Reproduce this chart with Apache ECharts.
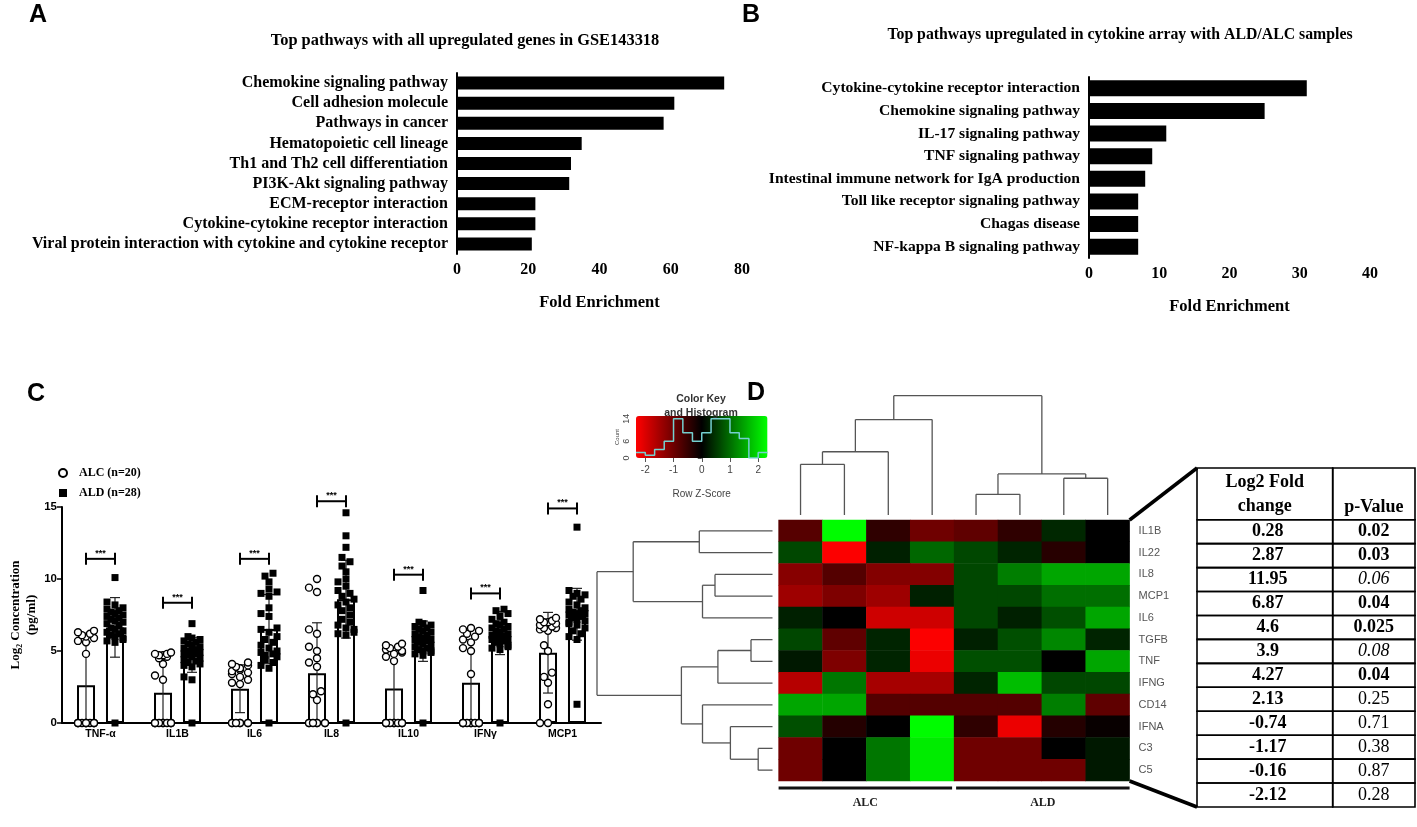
<!DOCTYPE html>
<html>
<head>
<meta charset="utf-8">
<script src="https://cdn.jsdelivr.net/npm/echarts@6/dist/echarts.min.js"></script>
<style>
  html, body { margin: 0; background: #fff; }
  #chart { width: 1417px; height: 827px; }
</style>
</head>
<body>
<div id="chart"></div>
<script>
// ---------- panel A: GSE143318 pathways
const pathwaysA = [
  'Chemokine signaling pathway', 'Cell adhesion molecule', 'Pathways in cancer',
  'Hematopoietic cell lineage', 'Th1 and Th2 cell differentiation', 'PI3K-Akt signaling pathway',
  'ECM-receptor interaction', 'Cytokine-cytokine receptor interaction',
  'Viral protein interaction with cytokine and cytokine receptor'
];
const enrichA = [75, 61, 58, 35, 32, 31.5, 22, 22, 21];

// ---------- panel B: cytokine array pathways
const pathwaysB = [
  'Cytokine-cytokine receptor interaction', 'Chemokine signaling pathway', 'IL-17 signaling pathway',
  'TNF signaling pathway', 'Intestinal immune network for IgA production',
  'Toll like receptor signaling pathway', 'Chagas disease', 'NF-kappa B signaling pathway'
];
const enrichB = [31, 25, 11, 9, 8, 7, 7, 7];

// ---------- panel C: log2 concentrations
const cytokines = ['TNF-α', 'IL1B', 'IL6', 'IL8', 'IL10', 'IFNγ', 'MCP1'];
const alcMean = [2.62, 2.1, 2.38, 3.46, 2.4, 2.8, 4.88];
const alcSD = [3.0, 2.3, 1.66, 3.5, 2.6, 3.0, 2.8];
const aldMean = [6.64, 4.72, 6.52, 8.6, 5.68, 6.25, 7.55];
const aldSD = [2.07, 1.2, 2.4, 2.7, 1.4, 1.5, 1.8];
const sigY = [11.4, 8.35, 11.4, 15.4, 10.3, 9.0, 14.9];
const alcPoints = [
  [6.4, 6.3, 6.2, 6.1, 6.0, 5.9, 5.7, 5.6, 4.8, 0, 0, 0, 0, 0, 0, 0, 0, 0, 0, 0],
  [4.9, 4.8, 4.8, 4.7, 4.7, 4.6, 4.5, 4.1, 3.3, 3.0, 0, 0, 0, 0, 0, 0, 0, 0, 0, 0],
  [4.2, 4.1, 4.0, 3.9, 3.8, 3.7, 3.6, 3.5, 3.4, 3.2, 3.0, 2.8, 2.7, 0, 0, 0, 0, 0, 0, 0],
  [10.0, 9.4, 9.1, 6.5, 6.2, 5.3, 5.0, 4.5, 4.2, 3.9, 2.2, 2.0, 1.6, 0, 0, 0, 0, 0, 0, 0],
  [5.5, 5.4, 5.3, 5.2, 5.1, 5.0, 4.9, 4.8, 4.6, 4.3, 0, 0, 0, 0, 0, 0, 0, 0, 0, 0],
  [6.6, 6.5, 6.4, 6.2, 6.0, 5.8, 5.6, 5.2, 5.0, 3.4, 0, 0, 0, 0, 0, 0, 0, 0, 0, 0],
  [7.3, 7.2, 7.1, 7.0, 7.0, 6.9, 6.8, 6.7, 6.6, 6.6, 6.5, 6.4, 5.4, 5.0, 3.5, 3.2, 2.8, 1.3, 0, 0]
];
const aldPoints = [
  [10.1, 8.4, 8.2, 8.0, 7.9, 7.8, 7.7, 7.6, 7.5, 7.4, 7.3, 7.2, 7.1, 7.0, 6.9, 6.8, 6.6, 6.5, 6.4, 6.3, 6.2, 6.1, 6.0, 5.9, 5.8, 5.7, 5.6, 0],
  [6.9, 6.0, 5.9, 5.8, 5.7, 5.6, 5.5, 5.4, 5.3, 5.2, 5.1, 5.0, 5.0, 4.9, 4.8, 4.8, 4.7, 4.6, 4.5, 4.4, 4.3, 4.2, 4.1, 4.0, 3.9, 3.2, 3.0, 0],
  [10.4, 10.2, 9.8, 9.3, 9.1, 9.0, 8.8, 8.0, 7.6, 7.4, 6.6, 6.5, 6.3, 6.0, 5.8, 5.6, 5.4, 5.2, 5.0, 4.9, 4.8, 4.7, 4.6, 4.4, 4.2, 4.0, 3.8, 0],
  [14.6, 13.0, 12.2, 11.5, 11.2, 10.9, 10.5, 10.0, 9.8, 9.5, 9.2, 9.0, 8.8, 8.6, 8.4, 8.2, 8.0, 7.8, 7.5, 7.2, 7.0, 6.8, 6.6, 6.5, 6.3, 6.2, 6.1, 0],
  [9.2, 7.0, 6.9, 6.8, 6.7, 6.6, 6.5, 6.4, 6.3, 6.2, 6.1, 6.0, 5.9, 5.8, 5.8, 5.7, 5.6, 5.5, 5.4, 5.3, 5.2, 5.1, 5.0, 5.0, 4.9, 4.8, 4.7, 0],
  [7.9, 7.8, 7.6, 7.4, 7.2, 7.0, 6.9, 6.8, 6.7, 6.6, 6.5, 6.4, 6.3, 6.2, 6.1, 6.0, 6.0, 5.9, 5.8, 5.8, 5.7, 5.6, 5.5, 5.4, 5.3, 5.2, 5.1, 0],
  [13.6, 9.2, 9.0, 8.9, 8.8, 8.6, 8.4, 8.2, 8.0, 7.9, 7.8, 7.7, 7.6, 7.6, 7.5, 7.4, 7.3, 7.2, 7.1, 7.0, 6.9, 6.8, 6.6, 6.4, 6.2, 6.0, 5.8, 1.3]
];

// ---------- panel D: heatmap (row z-scores), dendrograms, colour key, table
const genes = ['IL1B', 'IL22', 'IL8', 'MCP1', 'IL6', 'TGFB', 'TNF', 'IFNG', 'CD14', 'IFNA', 'C3', 'C5'];
const samples = ['s1', 's2', 's3', 's4', 's5', 's6', 's7', 's8'];
const heatZ = [
  [-0.79, 2.3, -0.43, -1.01, -0.87, -0.43, 0.36, 0],
  [0.65, -2.3, 0.29, 0.94, 0.65, 0.33, -0.36, 0],
  [-1.23, -0.77, -1.2, -1.2, 0.65, 1.15, 1.52, 1.52],
  [-1.44, -1.15, -1.44, 0.29, 0.65, 0.65, 1.01, 1.01],
  [0.29, 0, -1.88, -1.88, 0.65, 0.29, 0.72, 1.52],
  [0.65, -0.87, 0.33, -2.3, 0.29, 0.72, 1.23, 0.33],
  [0.22, -1.15, 0.33, -2.16, 0.72, 0.72, 0, 1.52],
  [-1.66, 1.08, -1.52, -1.52, 0.33, 1.73, 0.65, 0.65],
  [1.52, 1.52, -0.77, -0.77, -0.77, -0.77, 1.15, -0.87],
  [0.72, -0.33, 0, 2.3, -0.43, -2.16, -0.33, -0.07],
  [-1.01, 0, 1.08, 2.16, -1.01, -1.01, 0, 0.22],
  [-1.01, 0, 1.08, 2.16, -1.01, -1.01, -1.01, 0.22]
];
const sampleGroups = [['ALC', 0, 3], ['ALD', 4, 7]];
// hclust-style merges: negative = leaf (1-based), positive = earlier merge
const colMerge = [[-5, -6], [-7, -8], [1, 2], [-1, -2], [4, -3], [5, -4], [6, 3]];
const colHeight = [1.73, 3.08, 3.44, 4.25, 5.3, 8.0, 10.0];
const rowMerge = [[-11, -12], [-6, -7], [-10, 1], [2, -8], [-3, -4], [-9, 3], [5, -5], [-1, -2], [4, 6], [8, 7], [10, 9]];
const rowHeight = [14.3, 21.5, 42.1, 54.6, 57.5, 70, 70, 73.2, 91.1, 139.3, 175.5];
const keyEdges = [-2.33, -2, -1.67, -1.33, -1, -0.67, -0.33, 0, 0.33, 0.67, 1, 1.33, 1.67, 2, 2.33];
const keyCounts = [2, 1, 3, 6, 14, 9, 6, 9, 14, 14, 9, 7, 0, 2];
const foldChange = [0.28, 2.87, 11.95, 6.87, 4.6, 3.9, 4.27, 2.13, -0.74, -1.17, -0.16, -2.12];
const pValue = [0.02, 0.03, 0.06, 0.04, 0.025, 0.08, 0.04, 0.25, 0.71, 0.38, 0.87, 0.28];

const SERIF = '"Liberation Serif", "Times New Roman", serif';
const SANS = '"Liberation Sans", Arial, sans-serif';

const chart = echarts.init(document.getElementById('chart'));

// panel C geometry helpers (grid is 539 x 216 px, 7 bands, y 0..15)
const C_BAND = 539 / 7;
const C_PXY = 216 / 15;
const SIDE = 14.5 / C_BAND;

function swarm(vals, gi, side) {
  const slots = [0, -4, 4, -8, 8];
  const placed = [];
  return vals.slice().sort((a, b) => a - b).map((v, k) => {
    const y = v * C_PXY;
    let dx = slots.find(s => placed.every(p => Math.hypot(p[0] - s, p[1] - y) >= 6.5));
    if (dx === undefined) dx = slots[k % slots.length];
    placed.push([dx, y]);
    return [gi + side * SIDE + dx / C_BAND, v];
  });
}

function dendro(merge, heights) {
  const pos = [], ht = [], segs = [];
  merge.forEach(([a, b], m) => {
    const pa = a < 0 ? -a - 1 : pos[a - 1], ha = a < 0 ? 0 : ht[a - 1];
    const pb = b < 0 ? -b - 1 : pos[b - 1], hb = b < 0 ? 0 : ht[b - 1];
    const h = heights[m];
    segs.push([pa, ha, pa, h], [pa, h, pb, h], [pb, h, pb, hb]);
    pos.push((pa + pb) / 2);
    ht.push(h);
  });
  return segs;
}

const lineStyle = (stroke, w) => ({ stroke: stroke, lineWidth: w });

function segRender(params, api) {
  const p1 = api.coord([api.value(0), api.value(1)]);
  const p2 = api.coord([api.value(2), api.value(3)]);
  return { type: 'line', shape: { x1: p1[0], y1: p1[1], x2: p2[0], y2: p2[1] }, style: lineStyle('#555', 1.3) };
}

const labelA = { interval: 0, fontFamily: SERIF, fontWeight: 'bold', fontSize: 16, color: '#000' };
const labelB = { interval: 0, fontFamily: SERIF, fontWeight: 'bold', fontSize: 15.6, color: '#000' };
const tickLabel = { fontFamily: SERIF, fontWeight: 'bold', fontSize: 16, color: '#000' };
const blackLine = { lineStyle: { color: '#000', width: 2 } };
const blackTick = { length: 5, lineStyle: { color: '#000', width: 1.5 } };
const foldName = { fontFamily: SERIF, fontWeight: 'bold', fontSize: 16.5, color: '#000' };

const HEADER = 2.16;

const option = {
  animation: false,
  backgroundColor: '#fff',
  title: [
    { text: 'A', left: 29, top: 3, padding: 0, textStyle: { fontFamily: SANS, fontWeight: 'bold', fontSize: 25, color: '#000' } },
    { text: 'B', left: 742, top: 3, padding: 0, textStyle: { fontFamily: SANS, fontWeight: 'bold', fontSize: 25, color: '#000' } },
    { text: 'C', left: 27, top: 382, padding: 0, textStyle: { fontFamily: SANS, fontWeight: 'bold', fontSize: 25, color: '#000' } },
    { text: 'D', left: 747, top: 381, padding: 0, textStyle: { fontFamily: SANS, fontWeight: 'bold', fontSize: 25, color: '#000' } },
    { text: 'Top pathways with all upregulated genes in GSE143318', left: 465, top: 33, padding: 0, textAlign: 'center',
      textStyle: { fontFamily: SERIF, fontWeight: 'bold', fontSize: 16.4, color: '#000' } },
    { text: 'Top pathways upregulated in cytokine array with ALD/ALC samples', left: 1120, top: 27, padding: 0, textAlign: 'center',
      textStyle: { fontFamily: SERIF, fontWeight: 'bold', fontSize: 15.8, color: '#000' } },
    { text: 'Color Key\nand Histogram', left: 701, top: 392, padding: 0, textAlign: 'center',
      textStyle: { fontFamily: SANS, fontWeight: 'bold', fontSize: 10.5, lineHeight: 14, color: '#333' } }
  ],
  legend: {
    left: 58, top: 467, padding: 0, orient: 'vertical', itemWidth: 8, itemHeight: 8, itemGap: 8,
    data: [{ name: 'ALC (n=20)', icon: 'circle' }, { name: 'ALD (n=28)', icon: 'rect' }],
    textStyle: { fontFamily: SERIF, fontWeight: 'bold', fontSize: 12, color: '#000', padding: [0, 0, 0, 7] }
  },
  visualMap: {
    type: 'continuous', min: -2.33, max: 2.33, seriesIndex: 8, orient: 'horizontal',
    left: 636, top: 416, itemWidth: 42, itemHeight: 131.5, padding: 0, calculable: false,
    showLabel: false, text: null, hoverLink: false,
    inRange: { color: ['#ff0000', '#000000', '#00ff00'] }
  },
  grid: [
    { left: 457, top: 73, width: 285, height: 181 },
    { left: 1089, top: 77, width: 281, height: 181 },
    { left: 62, top: 507, width: 539, height: 216 },
    { left: 778.6, top: 520, width: 351, height: 261 },
    { left: 778.6, top: 395.7, width: 351, height: 119.3 },
    { left: 592.5, top: 520, width: 180, height: 261 },
    { left: 636, top: 416, width: 131.5, height: 42 },
    { left: 1197, top: 468, width: 218, height: 339 }
  ],
  xAxis: [
    { gridIndex: 0, type: 'value', min: 0, max: 80, interval: 20, splitLine: { show: false },
      axisLine: blackLine, axisTick: blackTick, axisLabel: Object.assign({ margin: 8 }, tickLabel),
      name: 'Fold Enrichment', nameLocation: 'middle', nameGap: 40, nameTextStyle: foldName },
    { gridIndex: 1, type: 'value', min: 0, max: 40, interval: 10, splitLine: { show: false },
      axisLine: blackLine, axisTick: blackTick, axisLabel: Object.assign({ margin: 8 }, tickLabel),
      name: 'Fold Enrichment', nameLocation: 'middle', nameGap: 40, nameTextStyle: foldName },
    { gridIndex: 2, type: 'category', data: cytokines,
      axisLine: Object.assign({ onZero: false }, blackLine), axisTick: Object.assign({ alignWithLabel: true }, blackTick),
      axisLabel: { interval: 0, margin: 6, fontFamily: SANS, fontWeight: 'bold', fontSize: 10.5, color: '#000' } },
    { gridIndex: 2, type: 'value', min: -0.5, max: 6.5, show: false },
    { gridIndex: 3, type: 'category', data: samples, show: false },
    { gridIndex: 4, type: 'value', min: -0.5, max: 7.5, show: false },
    { gridIndex: 5, type: 'value', min: 0, max: 180, inverse: true, show: false },
    { gridIndex: 6, type: 'value', min: -2.33, max: 2.33, splitLine: { show: false },
      axisLine: { show: false },
      axisTick: { customValues: [-2, -1, 0, 1, 2], length: 4, lineStyle: { color: '#555' } },
      axisLabel: { customValues: [-2, -1, 0, 1, 2], margin: 7, fontFamily: SANS, fontSize: 10, color: '#444' },
      name: 'Row Z-Score', nameLocation: 'middle', nameGap: 31,
      nameTextStyle: { fontFamily: SANS, fontSize: 10, color: '#444' } },
    { gridIndex: 7, type: 'value', min: 0, max: 1, show: false }
  ],
  yAxis: [
    { gridIndex: 0, type: 'category', data: pathwaysA, inverse: true,
      axisLine: blackLine, axisTick: Object.assign({ alignWithLabel: true }, blackTick),
      axisLabel: Object.assign({ margin: 9 }, labelA) },
    { gridIndex: 1, type: 'category', data: pathwaysB, inverse: true,
      axisLine: blackLine, axisTick: Object.assign({ alignWithLabel: true }, blackTick),
      axisLabel: Object.assign({ margin: 9 }, labelB) },
    { gridIndex: 2, type: 'value', min: 0, max: 15, interval: 5, splitLine: { show: false },
      axisLine: { show: true, onZero: false, lineStyle: { color: '#000', width: 2 } },
      axisTick: { show: true, length: 5, lineStyle: { color: '#000', width: 1.5 } },
      axisLabel: { margin: 5, fontFamily: SANS, fontWeight: 'bold', fontSize: 11.5, color: '#000' },
      name: 'Log₂ Concentration\n(pg/ml)', nameLocation: 'middle', nameGap: 22, nameRotate: 90,
      nameTextStyle: { fontFamily: SERIF, fontWeight: 'bold', fontSize: 13, lineHeight: 16, color: '#000' } },
    { gridIndex: 3, type: 'category', data: genes, inverse: true, position: 'right',
      axisLine: { show: false }, axisTick: { show: false },
      axisLabel: { interval: 0, margin: 9, fontFamily: SANS, fontSize: 11, color: '#555' } },
    { gridIndex: 4, type: 'value', min: 0, max: 10, show: false },
    { gridIndex: 5, type: 'value', min: -0.5, max: 11.5, inverse: true, show: false },
    { gridIndex: 6, type: 'value', min: 0, max: 15, splitLine: { show: false },
      axisLine: { show: false },
      axisTick: { customValues: [0, 2, 4, 6, 8, 10, 12, 14], length: 4, lineStyle: { color: '#555' } },
      axisLabel: { customValues: [0, 6, 14], rotate: 90, margin: 5, fontFamily: SANS, fontSize: 9, color: '#444' },
      name: 'Count', nameLocation: 'middle', nameGap: 16, nameRotate: 90,
      nameTextStyle: { fontFamily: SANS, fontSize: 6, color: '#444' } },
    { gridIndex: 7, type: 'value', min: 0, max: 12 + HEADER, inverse: true, show: false }
  ],
  series: [
    // 0, 1: pathway bars
    { type: 'bar', xAxisIndex: 0, yAxisIndex: 0, data: enrichA, barWidth: 13, itemStyle: { color: '#000' } },
    { type: 'bar', xAxisIndex: 1, yAxisIndex: 1, data: enrichB, barWidth: 16, itemStyle: { color: '#000' } },
    // 2, 3: mean bars
    { type: 'bar', name: 'ALC mean', xAxisIndex: 2, yAxisIndex: 2, data: alcMean, barWidth: 18, barGap: '61%',
      itemStyle: { color: '#fff', borderColor: '#000', borderWidth: 2 } },
    { type: 'bar', name: 'ALD mean', xAxisIndex: 2, yAxisIndex: 2, data: aldMean, barWidth: 18, barGap: '61%',
      itemStyle: { color: '#fff', borderColor: '#000', borderWidth: 2 } },
    // 4: error bars (mean ± SD)
    { type: 'custom', xAxisIndex: 3, yAxisIndex: 2, z: 3, clip: false,
      data: cytokines.map((c, i) => [i, aldMean[i]]),
      renderItem: (params, api) => {
        const i = params.dataIndex;
        const children = [];
        [[alcMean, alcSD, -1], [aldMean, aldSD, 1]].forEach(([m, s, side]) => {
          const x = i + side * SIDE;
          const hi = m[i] + s[i], lo = Math.max(0, m[i] - s[i]);
          const a = api.coord([x, hi]), b = api.coord([x, lo]);
          children.push({ type: 'line', shape: { x1: a[0], y1: a[1], x2: b[0], y2: b[1] }, style: lineStyle('#222', 1.2) });
          children.push({ type: 'line', shape: { x1: a[0] - 5, y1: a[1], x2: a[0] + 5, y2: a[1] }, style: lineStyle('#222', 1.2) });
          if (lo > 0) children.push({ type: 'line', shape: { x1: b[0] - 5, y1: b[1], x2: b[0] + 5, y2: b[1] }, style: lineStyle('#222', 1.2) });
        });
        return { type: 'group', children: children };
      } },
    // 5: significance brackets
    { type: 'custom', xAxisIndex: 3, yAxisIndex: 2, clip: false,
      data: sigY.map((y, i) => [i, y]),
      renderItem: (params, api) => {
        const i = api.value(0), y = api.value(1);
        const l = api.coord([i - SIDE, y]), r = api.coord([i + SIDE, y]);
        const st = lineStyle('#000', 2);
        return { type: 'group', children: [
          { type: 'line', shape: { x1: l[0], y1: l[1], x2: r[0], y2: r[1] }, style: st },
          { type: 'line', shape: { x1: l[0], y1: l[1] - 6, x2: l[0], y2: l[1] + 6 }, style: st },
          { type: 'line', shape: { x1: r[0], y1: r[1] - 6, x2: r[0], y2: r[1] + 6 }, style: st },
          { type: 'text', x: (l[0] + r[0]) / 2, y: l[1] - 1,
            style: { text: '***', font: 'bold 9px ' + SANS, fill: '#000', textAlign: 'center', textVerticalAlign: 'bottom', align: 'center', verticalAlign: 'bottom' } }
        ] };
      } },
    // 6, 7: individual samples
    { type: 'scatter', name: 'ALC (n=20)', xAxisIndex: 3, yAxisIndex: 2, symbol: 'circle', symbolSize: 7, clip: false, z: 4,
      itemStyle: { color: '#fff', borderColor: '#000', borderWidth: 1.4, opacity: 1 },
      data: alcPoints.flatMap((vals, gi) => swarm(vals, gi, -1)) },
    { type: 'scatter', name: 'ALD (n=28)', xAxisIndex: 3, yAxisIndex: 2, symbol: 'rect', symbolSize: 7, clip: false, z: 4,
      itemStyle: { color: '#000', opacity: 1 },
      data: aldPoints.flatMap((vals, gi) => swarm(vals, gi, 1)) },
    // 8: heatmap
    { type: 'heatmap', xAxisIndex: 4, yAxisIndex: 3,
      data: heatZ.flatMap((row, r) => row.map((z, c) => [c, r, z])),
      itemStyle: { borderWidth: 0 }, emphasis: { disabled: true } },
    // 9: column dendrogram
    { type: 'custom', xAxisIndex: 5, yAxisIndex: 4, clip: false,
      data: dendro(colMerge, colHeight), renderItem: segRender },
    // 10: row dendrogram (x = height, y = leaf position)
    { type: 'custom', xAxisIndex: 6, yAxisIndex: 5, clip: false,
      data: dendro(rowMerge, rowHeight).map(s => [s[1], s[0], s[3], s[2]]), renderItem: segRender },
    // 11: sample group bars below heatmap
    { type: 'custom', xAxisIndex: 4, yAxisIndex: 3, clip: false,
      data: sampleGroups.map(g => [g[1], g[2]]),
      renderItem: (params, api) => {
        const g = sampleGroups[params.dataIndex];
        const size = api.size([1, 1]);
        const a = api.coord([g[1], genes.length - 1]), b = api.coord([g[2], genes.length - 1]);
        const x1 = a[0] - size[0] / 2 + (params.dataIndex ? 2 : 0);
        const x2 = b[0] + size[0] / 2 - (params.dataIndex ? 0 : 2);
        const y = a[1] + size[1] / 2 + 7;
        return { type: 'group', children: [
          { type: 'line', shape: { x1: x1, y1: y, x2: x2, y2: y }, style: lineStyle('#111', 3) },
          { type: 'text', x: (x1 + x2) / 2, y: y + 15,
            style: { text: g[0], font: 'bold 12px ' + SERIF, fill: '#222', textAlign: 'center', textVerticalAlign: 'middle', align: 'center', verticalAlign: 'middle' } }
        ] };
      } },
    // 12: colour key histogram
    { type: 'line', xAxisIndex: 7, yAxisIndex: 6, step: 'end', symbol: 'none', z: 10,
      lineStyle: { color: '#74d0d0', width: 1.5 },
      data: keyEdges.map((e, k) => [e, keyCounts[Math.min(k, keyCounts.length - 1)]]) },
    // 13: table header
    { type: 'custom', xAxisIndex: 8, yAxisIndex: 7, clip: false, data: [[0, 0]],
      renderItem: (params, api) => {
        const split = 0.6225;
        const tl = api.coord([0, 0]), mid = api.coord([split, HEADER]), br = api.coord([1, HEADER]);
        const st = { stroke: '#000', lineWidth: 1.6, fill: null };
        return { type: 'group', children: [
          { type: 'rect', shape: { x: tl[0], y: tl[1], width: mid[0] - tl[0], height: br[1] - tl[1] }, style: st },
          { type: 'rect', shape: { x: mid[0], y: tl[1], width: br[0] - mid[0], height: br[1] - tl[1] }, style: st },
          { type: 'text', x: (tl[0] + mid[0]) / 2, y: (tl[1] + br[1]) / 2,
            style: { text: 'Log2 Fold\nchange', font: 'bold 18px ' + SERIF, lineHeight: 24, fill: '#000', textAlign: 'center', textVerticalAlign: 'middle', align: 'center', verticalAlign: 'middle' } },
          { type: 'text', x: (mid[0] + br[0]) / 2, y: (tl[1] + br[1]) / 2 + 13,
            style: { text: 'p-Value', font: 'bold 18px ' + SERIF, fill: '#000', textAlign: 'center', textVerticalAlign: 'middle', align: 'center', verticalAlign: 'middle' } }
        ] };
      } },
    // 14: table rows
    { type: 'custom', xAxisIndex: 8, yAxisIndex: 7, clip: false,
      data: foldChange.map((f, i) => [i, f]),
      renderItem: (params, api) => {
        const i = params.dataIndex, split = 0.6225;
        const tl = api.coord([0, HEADER + i]), mid = api.coord([split, HEADER + i + 1]), br = api.coord([1, HEADER + i + 1]);
        const st = { stroke: '#000', lineWidth: 1.6, fill: null };
        const p = pValue[i];
        const pFont = p < 0.05 ? 'bold 18px ' : (p < 0.1 ? 'italic 18px ' : '18px ');
        const cy = (tl[1] + br[1]) / 2;
        return { type: 'group', children: [
          { type: 'rect', shape: { x: tl[0], y: tl[1], width: mid[0] - tl[0], height: br[1] - tl[1] }, style: st },
          { type: 'rect', shape: { x: mid[0], y: tl[1], width: br[0] - mid[0], height: br[1] - tl[1] }, style: st },
          { type: 'text', x: (tl[0] + mid[0]) / 2 + 3, y: cy,
            style: { text: String(foldChange[i]), font: 'bold 18px ' + SERIF, fill: '#000', textAlign: 'center', textVerticalAlign: 'middle', align: 'center', verticalAlign: 'middle' } },
          { type: 'text', x: (mid[0] + br[0]) / 2, y: cy,
            style: { text: String(p), font: pFont + SERIF, fill: '#000', textAlign: 'center', textVerticalAlign: 'middle', align: 'center', verticalAlign: 'middle' } }
        ] };
      } }
  ]
};

chart.setOption(option);

// connector lines from the heatmap corners to the table corners
const heatRight = chart.convertToPixel({ xAxisIndex: 5 }, 7.5);
const heatTop = chart.convertToPixel({ yAxisIndex: 5 }, -0.5);
const heatBottom = chart.convertToPixel({ yAxisIndex: 5 }, 11.5);
const tabLeft = chart.convertToPixel({ xAxisIndex: 8 }, 0);
const tabTop = chart.convertToPixel({ yAxisIndex: 7 }, 0);
const tabBottom = chart.convertToPixel({ yAxisIndex: 7 }, 12 + HEADER);
chart.setOption({
  graphic: [
    { type: 'line', shape: { x1: heatRight, y1: heatTop, x2: tabLeft, y2: tabTop }, style: { stroke: '#000', lineWidth: 3.5 } },
    { type: 'line', shape: { x1: heatRight, y1: heatBottom, x2: tabLeft, y2: tabBottom }, style: { stroke: '#000', lineWidth: 3.5 } }
  ]
});
</script>
</body>
</html>
